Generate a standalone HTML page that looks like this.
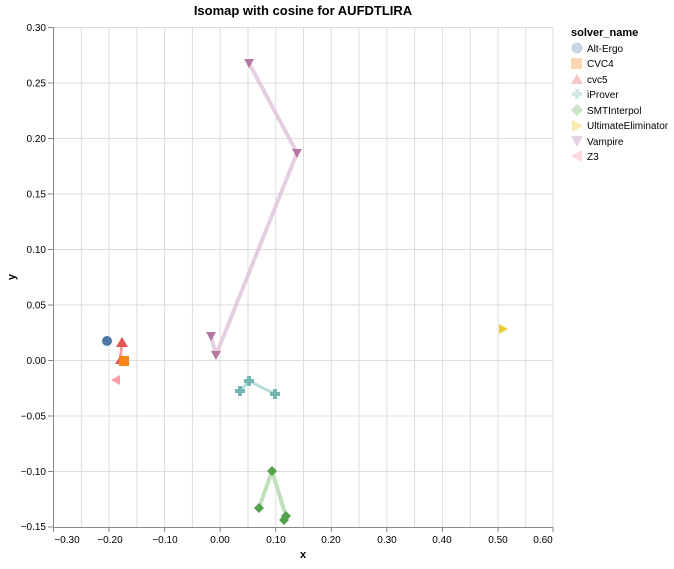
<!DOCTYPE html><html><head><style>body{margin:0;background:#fff}text{font-family:"Liberation Sans",sans-serif}</style></head><body>
<svg width="674" height="564" xmlns="http://www.w3.org/2000/svg">
<g stroke="#ddd" stroke-width="1">
<line x1="53.5" y1="27" x2="53.5" y2="527"/><line x1="81.3" y1="27" x2="81.3" y2="527"/><line x1="109" y1="27" x2="109" y2="527"/><line x1="136.8" y1="27" x2="136.8" y2="527"/><line x1="164.6" y1="27" x2="164.6" y2="527"/><line x1="192.4" y1="27" x2="192.4" y2="527"/><line x1="220.2" y1="27" x2="220.2" y2="527"/><line x1="248" y1="27" x2="248" y2="527"/><line x1="275.7" y1="27" x2="275.7" y2="527"/><line x1="303.5" y1="27" x2="303.5" y2="527"/><line x1="331.3" y1="27" x2="331.3" y2="527"/><line x1="359" y1="27" x2="359" y2="527"/><line x1="386.8" y1="27" x2="386.8" y2="527"/><line x1="414.6" y1="27" x2="414.6" y2="527"/><line x1="442.4" y1="27" x2="442.4" y2="527"/><line x1="470.2" y1="27" x2="470.2" y2="527"/><line x1="498" y1="27" x2="498" y2="527"/><line x1="525.7" y1="27" x2="525.7" y2="527"/><line x1="553" y1="27" x2="553" y2="527"/>
<line x1="53" y1="27.5" x2="553" y2="27.5"/><line x1="53" y1="83" x2="553" y2="83"/><line x1="53" y1="138.5" x2="553" y2="138.5"/><line x1="53" y1="194" x2="553" y2="194"/><line x1="53" y1="249.5" x2="553" y2="249.5"/><line x1="53" y1="305" x2="553" y2="305"/><line x1="53" y1="360.5" x2="553" y2="360.5"/><line x1="53" y1="416" x2="553" y2="416"/><line x1="53" y1="471.5" x2="553" y2="471.5"/>
</g>
<g stroke="#888"><line x1="53" y1="527.5" x2="553" y2="527.5"/><line x1="53.5" y1="27" x2="53.5" y2="527"/>
<line x1="53.5" y1="527" x2="53.5" y2="532"/><line x1="109" y1="527" x2="109" y2="532"/><line x1="164.6" y1="527" x2="164.6" y2="532"/><line x1="220.2" y1="527" x2="220.2" y2="532"/><line x1="275.7" y1="527" x2="275.7" y2="532"/><line x1="331.3" y1="527" x2="331.3" y2="532"/><line x1="386.8" y1="527" x2="386.8" y2="532"/><line x1="442.4" y1="527" x2="442.4" y2="532"/><line x1="498" y1="527" x2="498" y2="532"/><line x1="553" y1="527" x2="553" y2="532"/>
<line x1="48" y1="27.5" x2="53" y2="27.5"/><line x1="48" y1="83" x2="53" y2="83"/><line x1="48" y1="138.5" x2="53" y2="138.5"/><line x1="48" y1="194" x2="53" y2="194"/><line x1="48" y1="249.5" x2="53" y2="249.5"/><line x1="48" y1="305" x2="53" y2="305"/><line x1="48" y1="360.5" x2="53" y2="360.5"/><line x1="48" y1="416" x2="53" y2="416"/><line x1="48" y1="471.5" x2="53" y2="471.5"/><line x1="48" y1="527" x2="53" y2="527"/></g>
<g font-size="10" fill="#000" text-anchor="middle">
<text x="67" y="543">−0.30</text><text x="110" y="543">−0.20</text><text x="165" y="543">−0.10</text><text x="220" y="543">0.00</text><text x="276" y="543">0.10</text><text x="331" y="543">0.20</text><text x="387" y="543">0.30</text><text x="442" y="543">0.40</text><text x="498" y="543">0.50</text><text x="543" y="543">0.60</text></g>
<g font-size="10" fill="#000" text-anchor="end">
<text x="46" y="31">0.30</text><text x="46" y="86.5">0.25</text><text x="46" y="142">0.20</text><text x="46" y="197.5">0.15</text><text x="46" y="253">0.10</text><text x="46" y="308.5">0.05</text><text x="46" y="364">0.00</text><text x="46" y="419.5">−0.05</text><text x="46" y="475">−0.10</text><text x="46" y="530">−0.15</text></g>
<text x="303" y="558" font-size="11" font-weight="bold" text-anchor="middle">x</text>
<text transform="translate(15,277) rotate(-90)" font-size="11" font-weight="bold" text-anchor="middle">y</text>
<text x="303" y="15" font-size="13" font-weight="bold" text-anchor="middle">Isomap with cosine for AUFDTLIRA</text>
<g fill="none" stroke-linecap="round" stroke-linejoin="round">
<polyline points="249,63 297,153 216,355 211,336" stroke="#ddc2d8" stroke-width="4" opacity="0.8"/>
<polyline points="122,343 120,361" stroke="#f4a0a0" stroke-width="3"/>
<polyline points="240,391 249,381 275,394" stroke="#b9ddd9" stroke-width="3"/>
<polyline points="259,508 272,471 286,516 284,520" stroke="#bfe0bb" stroke-width="4"/>
</g>
<circle cx="107" cy="341" r="5" fill="#4c78a8"/>
<path d="M122,337 L128,347 L116,347Z" fill="#e45756"/>
<path d="M120,356 L125,364 L115,364Z" fill="#e45756"/>
<rect x="119" y="356" width="10" height="10" fill="#f58518"/>
<path d="M111,380 L120,375 L120,385Z" fill="#ff9da6"/>
<g fill="#b279a2"><path d="M244,59 L254,59 L249,68Z"/><path d="M292,149 L302,149 L297,158Z"/><path d="M206,332 L216,332 L211,341Z"/><path d="M211,351 L221,351 L216,360Z"/></g>
<g fill="#72b7b2"><path d="M247,376h4v3h3v4h-3v3h-4v-3h-3v-4h3z"/><path d="M238,386h4v3h3v4h-3v3h-4v-3h-3v-4h3z"/><path d="M273,389h4v3h3v4h-3v3h-4v-3h-3v-4h3z"/></g>
<g fill="#54a24b"><path d="M272,466l5,5l-5,5l-5,-5z"/><path d="M259,503l5,5l-5,5l-5,-5z"/><path d="M286,511l5,5l-5,5l-5,-5z"/><path d="M284,515l5,5l-5,5l-5,-5z"/></g>
<path d="M499,324 L508,329 L499,334Z" fill="#eeca3b"/>
<text x="571" y="36" font-size="11" font-weight="bold">solver_name</text>
<g font-size="10" fill="#000">
<circle cx="577" cy="48" r="5.5" fill="#c9d6e5"/><text x="587" y="52">Alt-Ergo</text>
<rect x="571" y="58" width="11" height="11" fill="#fcd5b3"/><text x="587" y="67">CVC4</text>
<path d="M577,74 L583,84 L571,84Z" fill="#f6c8c7"/><text x="587" y="83">cvc5</text>
<path d="M575,89h4v3h3v4h-3v3h-4v-3h-3v-4h3z" fill="#d3e8e6"/><text x="587" y="98">iProver</text>
<path d="M577,104l6,6l-6,6l-6,-6z" fill="#cce3c9"/><text x="587" y="114">SMTInterpol</text>
<path d="M572,120 L583,126 L572,132Z" fill="#f9eab0"/><text x="587" y="129">UltimateEliminator</text>
<path d="M571,136 L583,136 L577,147Z" fill="#e5d3e1"/><text x="587" y="145">Vampire</text>
<path d="M571,156 L582,150 L582,162Z" fill="#fdd8dc"/><text x="587" y="160">Z3</text>
</g>
</svg></body></html>
